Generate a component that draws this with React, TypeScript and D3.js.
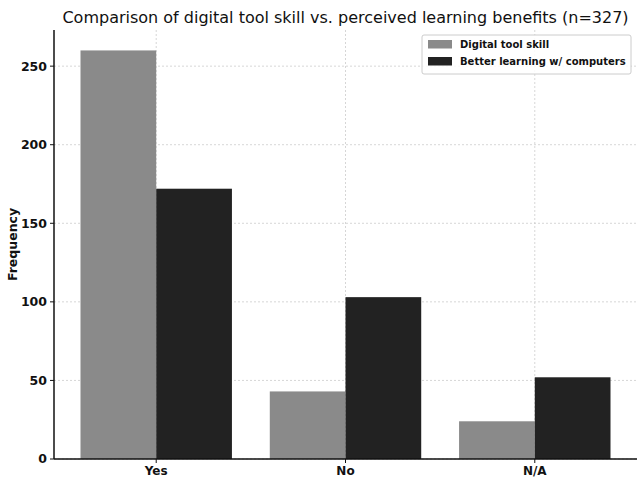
import React from "react";
import * as d3 from "d3";

const categories = ["Yes", "No", "N/A"];
const digitalSkill = [260, 43, 24];
const betterLearning = [172, 103, 52];
const seriesNames = ["Digital tool skill", "Better learning w/ computers"];
const yTicks = [0, 50, 100, 150, 200, 250];

const W = 642, H = 483;
const L = 54, R = 637, T = 30, B = 459;
const colors = ["#8a8a8a", "#222222"];

export default function App() {
  const x = d3.scaleLinear().domain([-0.54, 2.54]).range([L, R]);
  const y = d3.scaleLinear().domain([0, 273]).range([B, T]);
  const bw = 0.4;
  const series = [digitalSkill, betterLearning];
  const font = "DejaVu Sans, sans-serif";
  return (
    <svg width={W} height={H} style={{ position: "absolute", left: 0, top: 0 }} fontFamily={font}>
      <rect width={W} height={H} fill="#fff" />
      {/* grid */}
      {yTicks.map((t) => (
        <line key={"gy" + t} x1={L} x2={R} y1={y(t)} y2={y(t)} stroke="#c4c4c4" strokeWidth={0.7} strokeDasharray="2,2" />
      ))}
      {categories.map((c, i) => (
        <line key={"gx" + c} x1={x(i)} x2={x(i)} y1={T} y2={B} stroke="#c4c4c4" strokeWidth={0.7} strokeDasharray="2,2" />
      ))}
      {/* bars */}
      {series.map((s, si) =>
        s.map((v, i) => {
          const x0 = si === 0 ? x(i - bw) : x(i);
          return (
            <rect key={si + "-" + i} x={x0} y={y(v)} width={x(i + bw) - x(i)} height={B - y(v)} fill={colors[si]} />
          );
        })
      )}
      {/* axes */}
      <line x1={L} x2={L} y1={T} y2={B} stroke="#111" strokeWidth={1.5} />
      <line x1={L} x2={R} y1={B} y2={B} stroke="#111" strokeWidth={1.5} />
      {yTicks.map((t) => (
        <g key={"yt" + t}>
          <line x1={L - 4} x2={L} y1={y(t)} y2={y(t)} stroke="#111" strokeWidth={1} />
          <text x={L - 7} y={y(t)} dy="0.35em" textAnchor="end" fontSize={12.5} fontWeight="bold" fill="#111">{t}</text>
        </g>
      ))}
      {categories.map((c, i) => (
        <g key={"xt" + c}>
          <line x1={x(i)} x2={x(i)} y1={B} y2={B + 4} stroke="#111" strokeWidth={1} />
          <text x={x(i)} y={B + 16} textAnchor="middle" fontSize={12} fontWeight="bold" fill="#111">{c}</text>
        </g>
      ))}
      <text transform={`translate(17,${(T + B) / 2}) rotate(-90)`} textAnchor="middle" fontSize={12.5} fontWeight="bold" fill="#111">Frequency</text>
      <text x={(L + R) / 2} y={23} textAnchor="middle" fontSize={16} fill="#111">
        Comparison of digital tool skill vs. perceived learning benefits (n=327)
      </text>
      {/* legend */}
      <g>
        <rect x={422} y={35} width={209} height={39} rx={2} fill="#fff" fillOpacity={0.85} stroke="#ccc" strokeWidth={1} />
        {seriesNames.map((n, i) => (
          <g key={n}>
            <rect x={428} y={40 + i * 17} width={24} height={8.5} fill={colors[i]} />
            <text x={460} y={44.5 + i * 17} dy="0.35em" fontSize={10} fontWeight="bold" fill="#111">{n}</text>
          </g>
        ))}
      </g>
    </svg>
  );
}
